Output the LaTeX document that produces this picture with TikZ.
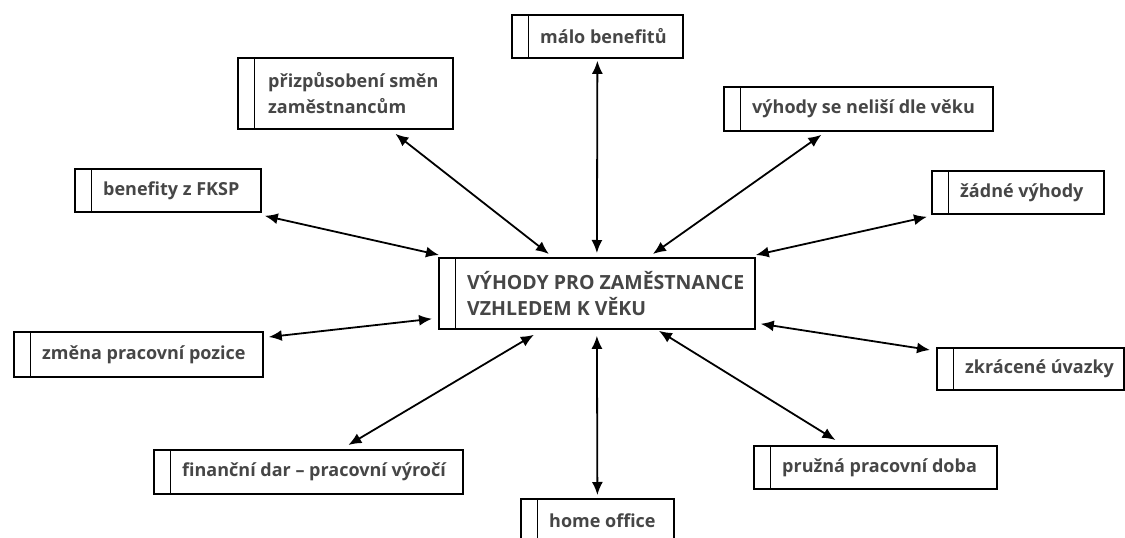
\documentclass[tikz,border=0pt]{standalone}
\usepackage{fontspec}
\setmainfont{Open Sans}
\usetikzlibrary{arrows.meta}
\definecolor{txtgray}{HTML}{464646}
\begin{document}
\begin{tikzpicture}[x=1pt,y=-1pt,
  frame/.style={draw=black, line width=1.8pt, fill=white, rectangle, inner sep=0pt, anchor=north west,
    path picture={\draw[line width=1.8pt] ([xshift=16.5pt]path picture bounding box.north west) -- ([xshift=16.5pt]path picture bounding box.south west);}},
  lbl/.style={font=\bfseries\fontsize{18}{26}\selectfont, text=txtgray, anchor=west, inner sep=0pt, align=left},
  biglbl/.style={font=\bfseries\fontsize{19.5}{26}\selectfont, text=txtgray, anchor=west, inner sep=0pt, align=left},
  link/.style={line width=1.8pt, {Latex[length=13pt,width=11pt]}-{Latex[length=13pt,width=11pt]}}]
\useasboundingbox (0,0) rectangle (1125,538);
\clip (0,0) rectangle (1125,538);

% central box
\node[frame, minimum width=316pt, minimum height=71pt] (C) at (438,257) {};
\node[biglbl] (Ct) at ([xshift=29pt]C.west) {VÝHODY PRO ZAMĚSTNANCE\\VZHLEDEM K VĚKU};

% surrounding boxes
\node[frame, minimum width=171pt, minimum height=43pt] (M) at (511,14) {};
\node[lbl] (Mt) at ([xshift=29pt]M.west) {málo benefitů};

\node[frame, minimum width=215pt, minimum height=71pt] (P) at (237,57) {};
\node[lbl] (Pt) at ([xshift=31pt]P.west) {přizpůsobení směn\\zaměstnancům};

\node[frame, minimum width=269pt, minimum height=44pt] (V) at (723,86) {};
\node[lbl] (Vt) at ([xshift=29pt]V.west) {výhody se neliší dle věku};

\node[frame, minimum width=186pt, minimum height=43pt] (B) at (74,168) {};
\node[lbl] (Bt) at ([xshift=29pt]B.west) {benefity z FKSP};

\node[frame, minimum width=172pt, minimum height=43pt] (Z) at (931,170) {};
\node[lbl] (Zt) at ([xshift=29pt]Z.west) {žádné výhody};

\node[frame, minimum width=249pt, minimum height=45pt] (ZM) at (13,331) {};
\node[lbl] (ZMt) at ([xshift=29pt]ZM.west) {změna pracovní pozice};

\node[frame, minimum width=187pt, minimum height=42pt] (ZK) at (936,347) {};
\node[lbl] (ZKt) at ([xshift=29pt]ZK.west) {zkrácené úvazky};

\node[frame, minimum width=309pt, minimum height=44pt] (F) at (153,449) {};
\node[lbl] (Ft) at ([xshift=29pt]F.west) {finanční dar – pracovní výročí};

\node[frame, minimum width=243pt, minimum height=43pt] (PR) at (753,445) {};
\node[lbl] (PRt) at ([xshift=29pt]PR.west) {pružná pracovní doba};

\node[frame, minimum width=153pt, minimum height=44pt] (H) at (520,498) {};
\node[lbl] (Ht) at ([xshift=29pt]H.west) {home office};

% double-headed connectors (offsets in picture units, y pointing down)
\draw[link] ([shift={(0,2)}]M.south) -- ([shift={(0,-4)}]C.north);
\draw[link] ([shift={(50,4)}]P.south) -- ([shift={(-48,-3)}]C.north);
\draw[link] ([shift={(-37,3)}]V.south) -- ([shift={(56,-3)}]C.north);
\draw[link] ([shift={(3,3)}]B.south east) -- ([shift={(1,-2)}]C.north west);
\draw[link] ([shift={(-4,2)}]Z.south west) -- ([shift={(0,-2)}]C.north east);
\draw[link] ([shift={(5,6)}]ZM.north east) -- ([shift={(-6,-11)}]C.south west);
\draw[link] ([shift={(-6,3)}]ZK.north west) -- ([shift={(5,-6)}]C.south east);
\draw[link] ([shift={(40,-4)}]F.north) -- ([shift={(-63,5)}]C.south);
\draw[link] ([shift={(-40,-5)}]PR.north) -- ([shift={(62,1)}]C.south);
\draw[link] ([shift={(0,-3)}]H.north) -- ([shift={(0,6)}]C.south);
\end{tikzpicture}
\end{document}
